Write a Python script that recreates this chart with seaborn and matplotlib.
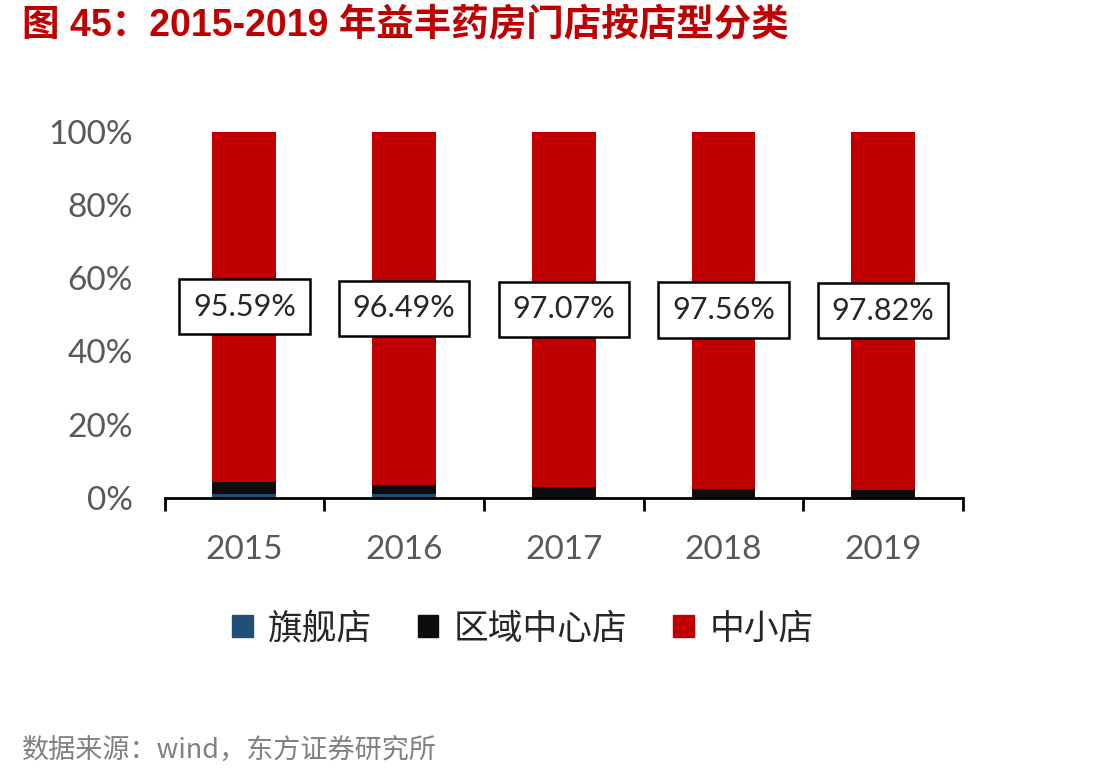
import numpy as np
import pandas as pd
import seaborn as sns
import matplotlib.pyplot as plt

years = ['2015', '2016', '2017', '2018', '2019']
flagship = [1.10, 0.90, 0.30, 0.20, 0.15]
regional = [3.31, 2.61, 2.63, 2.24, 2.03]
small = [95.59, 96.49, 97.07, 97.56, 97.82]
series_names = ['旗舰店', '区域中心店', '中小店']
colors = ['#1F4E79', '#0D0D0D', '#C00000']

sns.set_theme(style='white')
plt.rcParams['font.family'] = ['Lato', 'Noto Sans CJK SC', 'DejaVu Sans']

df = pd.DataFrame({'year': years, 'flagship': flagship, 'regional': regional, 'small': small})
df['total'] = df['flagship'] + df['regional'] + df['small']
df['mid'] = df['flagship'] + df['regional']

fig = plt.figure(figsize=(11.12, 7.79), dpi=100)
ax = fig.add_axes([0.148, 0.361, 0.718, 0.470])

# stacked bars: draw cumulative totals back to front
for col, c in zip(['total', 'mid', 'flagship'], colors[::-1]):
    sns.barplot(data=df, x='year', y=col, color=c, width=0.4, saturation=1, linewidth=0, ax=ax)

for i, row in df.iterrows():
    ax.text(i, row['mid'] + row['small'] / 2, f"{row['small']:.2f}%", ha='center', va='center',
            fontsize=22, color='#262626',
            bbox=dict(boxstyle='square,pad=0.45', facecolor='white', edgecolor='black', linewidth=1.8))

ax.set_ylim(0, 100)
ax.set_xlim(-0.5, 4.5)
ax.set_yticks([0, 20, 40, 60, 80, 100])
ax.set_yticklabels([f'{v}%' for v in [0, 20, 40, 60, 80, 100]])
ax.set_xlabel('')
ax.set_ylabel('')
ax.tick_params(axis='y', labelsize=24, labelcolor='#595959', length=0, pad=23)
ax.tick_params(axis='x', labelsize=24, labelcolor='#595959', length=0, pad=27)
ax.set_xticks(np.arange(-0.5, 5, 1), minor=True)
ax.tick_params(axis='x', which='minor', bottom=True, length=9, width=2, color='black', direction='out')
for s in ['left', 'right', 'top']:
    ax.spines[s].set_visible(False)
ax.spines['bottom'].set_linewidth(2)
ax.spines['bottom'].set_color('black')

handles = [plt.Rectangle((0, 0), 1, 1, color=c) for c in colors]
fig.legend(handles, series_names, loc='center', bbox_to_anchor=(0.47, 0.194), ncol=3, frameon=False,
           fontsize=25, handlelength=0.6, handleheight=0.6, handletextpad=0.45, columnspacing=1.3,
           labelcolor='#262626')

fig.text(0.02, 0.967, '图 45：2015-2019 年益丰药房门店按店型分类', fontsize=27, fontweight='bold',
         color='#C00000', ha='left', va='center', family=['Liberation Sans', 'Noto Sans CJK SC'])
fig.text(0.02, 0.037, '数据来源：wind，东方证券研究所', fontsize=19.5, color='#808080',
         ha='left', va='center', family=['Noto Sans CJK SC', 'DejaVu Sans'])

fig.savefig('out.png', dpi=100)
